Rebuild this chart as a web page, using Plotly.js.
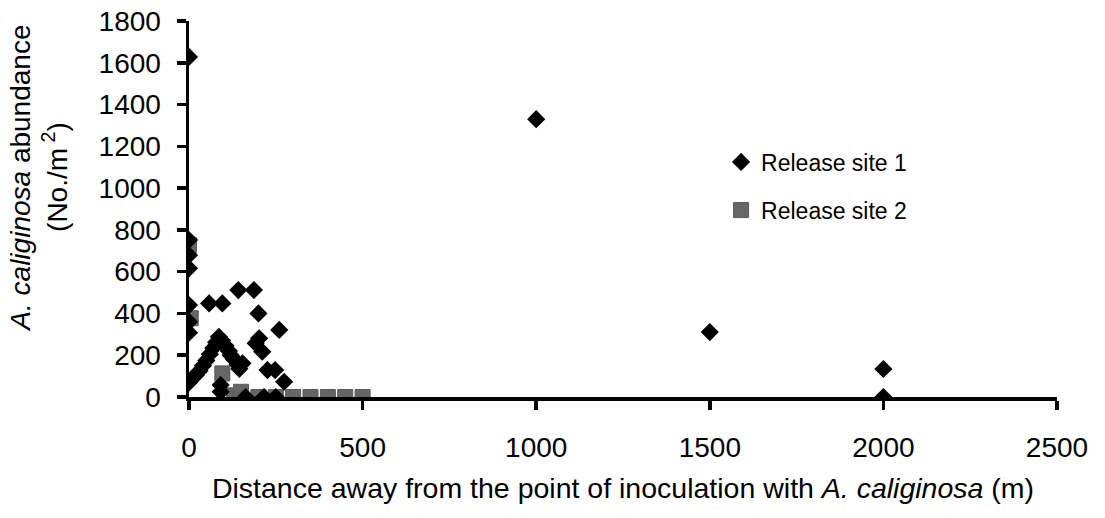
<!DOCTYPE html>
<html>
<head>
<meta charset="utf-8">
<script src="https://cdn.plot.ly/plotly-3.0.1.min.js"></script>
<style>html,body{margin:0;padding:0;background:#fff;}#chart{width:1105px;height:518px;}</style>
</head>
<body>
<div id="chart"></div>
<script>
// Release site 1 (distance m, abundance No./m2)
const site1X = [0,0,0,0,0,0,0, 0,10,20,30,40,50,60,70,78,86, 95,105,115,120,130,140,145, 58,96,142,187, 200,260,202,192,211,154,226,248,274, 91,91, 163,216,250, 1000,1500,2000,2000];
const site1Y = [1628,751,679,616,440,360,308, 70,90,105,125,150,175,205,235,262,288, 270,245,220,200,180,155,135, 448,448,512,512, 400,321,281,257,217,161,129,129,73, 57,25, 0,0,0, 1330,311,134,0];
// Release site 2
const site2X = [0,5,96,130,150,200,250,300,350,400,450,500];
const site2Y = [727,377,113,8,25,0,0,0,0,0,0,0];
const seriesNames = ["Release site 1","Release site 2"];
const xTicks = [0,500,1000,1500,2000,2500];
const yTicks = [0,200,400,600,800,1000,1200,1400,1600,1800];

const FONT = "Liberation Sans, Arial, sans-serif";
const traces = [
  {x: site2X, y: site2Y, name: seriesNames[1], type: "scatter", mode: "markers", legend: "legend2",
   marker: {symbol: "square", size: 15, color: "#666666", line: {color: "#5a5a5a", width: 1}}},
  {x: site1X, y: site1Y, name: seriesNames[0], type: "scatter", mode: "markers", legend: "legend",
   marker: {symbol: "diamond", size: 14, color: "#000000", line: {width: 0}}}
];
const legendCommon = {xanchor: "left", yanchor: "middle", font: {family: FONT, size: 23, color: "#000"},
                      bgcolor: "rgba(0,0,0,0)", borderwidth: 0};
const layout = {
  width: 1105, height: 518,
  margin: {l: 189, r: 48, t: 21, b: 121},
  paper_bgcolor: "#fff", plot_bgcolor: "#fff",
  font: {family: FONT, size: 28, color: "#000"},
  showlegend: true,
  legend: Object.assign({x: 0.613, y: 0.625}, legendCommon),
  legend2: Object.assign({x: 0.613, y: 0.497}, legendCommon),
  xaxis: {
    range: [0, 2500], tickvals: xTicks, ticktext: xTicks.map(String),
    showgrid: false, zeroline: false, showline: true, linecolor: "#000", linewidth: 3.5,
    ticks: "outside", ticklen: 9, tickwidth: 3.5, tickcolor: "#000",
    ticklabelstandoff: 14,
    tickfont: {family: FONT, size: 28, color: "#000"},
    title: {text: "Distance away from the point of inoculation with <i>A. caliginosa</i> (m)",
            font: {family: FONT, size: 28.5, color: "#000"}, standoff: 17}
  },
  yaxis: {
    range: [0, 1800], tickvals: yTicks, ticktext: yTicks.map(String),
    showgrid: false, zeroline: false, showline: true, linecolor: "#000", linewidth: 3.5,
    ticks: "outside", ticklen: 9, tickwidth: 3.5, tickcolor: "#000",
    ticklabelstandoff: 10,
    tickfont: {family: FONT, size: 28, color: "#000"}
  },
  annotations: [{
    text: "<i>A. caliginosa</i> abundance<br>(No./m<sup> 2</sup>)",
    xref: "paper", yref: "paper", x: -0.1734, y: 0.582,
    xanchor: "center", yanchor: "middle", textangle: -90, showarrow: false, align: "center",
    font: {family: FONT, size: 28, color: "#000"}
  }]
};
Plotly.newPlot("chart", traces, layout, {displayModeBar: false, staticPlot: true});
</script>
</body>
</html>
